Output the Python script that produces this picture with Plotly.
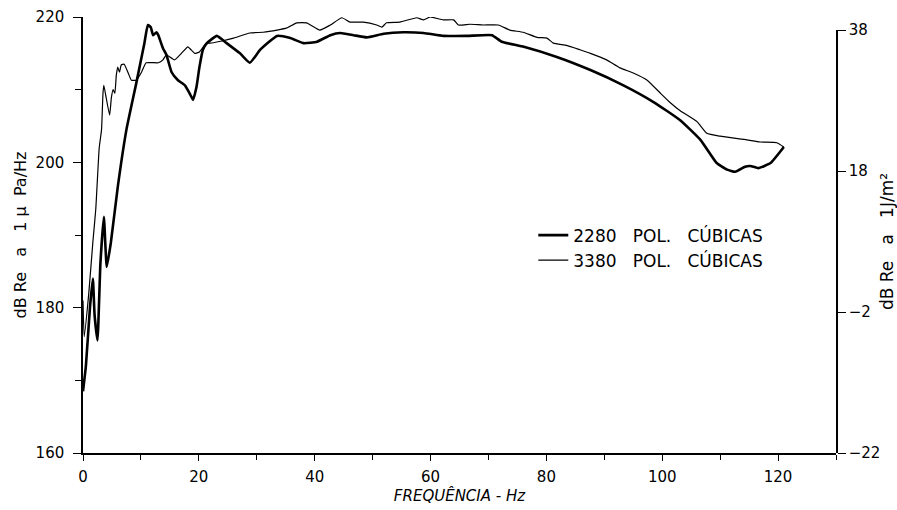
import plotly.graph_objects as go

# 2280 POL. CÚBICAS (thick line)
freq_2280 = [0, 0.5, 1.2, 1.7, 2.0, 2.5, 3.0, 3.6, 4.1, 4.8, 6.0, 7.5, 9.2, 10.6, 11.2, 11.7,
             12.1, 12.7, 13.0, 13.8, 14.4, 15.3, 16.4, 17.6, 18.4, 19.0, 19.6, 20.1, 20.7, 21.4,
             23.1, 24.8, 27.1, 28.8, 30.6, 33.5, 35.8, 38.1, 40.4, 42.7, 44.4, 46.7, 49.0, 51.9,
             55.3, 58.8, 62.2, 66.3, 70.6, 72.3, 76.1, 81.8, 87.6, 93.3, 98.5, 103.1, 106.6,
             109.4, 111.2, 112.6, 114.3, 115.2, 116.6, 118.7, 121.0]
db_2280 = [168.5, 172, 180, 184, 179, 175.5, 186, 192.5, 185.6, 188.9, 196.6, 204.5, 210.9, 216.4,
           218.9, 218.6, 217.5, 217.9, 217.5, 215.7, 214.8, 212.4, 211.3, 210.6, 209.5, 208.6,
           210.4, 213.1, 215.5, 216.4, 217.4, 216.4, 215.0, 213.7, 215.5, 217.4, 217.1, 216.4,
           216.6, 217.5, 217.8, 217.5, 217.2, 217.7, 217.9, 217.8, 217.4, 217.4, 217.5, 216.6,
           215.9, 214.5, 212.7, 210.6, 208.3, 205.8, 203.1, 199.9, 199.0, 198.7, 199.4, 199.5,
           199.2, 199.9, 202.1]

# 3380 POL. CÚBICAS (thin line)
freq_3380 = [0, 0.2, 1.0, 1.7, 2.2, 2.8, 3.2, 3.45, 3.6, 4.0, 4.6, 4.9, 5.2, 5.5, 5.75, 6.0, 6.3,
             6.6, 7.1, 7.8, 8.35, 9.2, 10.1, 10.9, 13.0, 13.8, 14.4, 15.8, 17.0, 18.1, 19.3,
             20.1, 21.3, 21.9, 24.0, 26.0, 28.8, 31.1, 33.5, 35.2, 36.9, 38.6, 40.9, 42.7, 44.7,
             46.1, 48.4, 50.7, 51.6, 52.4, 54.7, 57.6, 58.8, 59.9, 62.2, 64.0, 64.8, 66.8, 69.1,
             71.7, 73.7, 76.0, 78.4, 80.1, 81.2, 83.5, 85.8, 87.6, 90.4, 92.7, 95.0, 97.4, 99.7,
             101.4, 103.1, 106.0, 107.7, 110.0, 114.6, 116.9, 119.8, 121.0]
db_3380 = [181, 176, 182, 189, 193.5, 202, 204.5, 209.5, 210.6, 208.9, 206.5, 208.9, 210.0,
           209.5, 212.0, 213.1, 212.4, 213.4, 213.5, 212.3, 211.3, 211.3, 212.4, 213.7, 213.7,
           214.1, 214.8, 214.1, 215.0, 215.9, 215.0, 215.2, 216.4, 216.4, 216.7, 217.1, 217.8,
           217.9, 218.2, 218.5, 219.2, 219.2, 218.2, 218.9, 219.9, 219.3, 219.3, 218.9, 218.6,
           219.2, 219.3, 219.9, 219.6, 220.0, 219.6, 219.6, 218.9, 219.0, 218.9, 218.9, 218.2,
           217.9, 217.2, 217.1, 216.4, 216.1, 215.5, 215.0, 214.1, 213.0, 212.3, 211.3, 209.5,
           208.2, 207.1, 205.6, 204.0, 203.6, 203.1, 202.8, 202.7, 202.1]

x_ticks = [0, 20, 40, 60, 80, 100, 120]
left_ticks = [160, 180, 200, 220]
right_ticks = [-22, -2, 18, 38]

FONT = "DejaVu Sans"

fig = go.Figure()
fig.add_trace(go.Scatter(x=freq_2280, y=db_2280, mode="lines", name="2280   POL.   CÚBICAS",
                         line=dict(color="black", width=2.6, shape="spline", smoothing=0.4)))
fig.add_trace(go.Scatter(x=freq_3380, y=db_3380, mode="lines", name="3380   POL.   CÚBICAS",
                         line=dict(color="black", width=1.2, shape="spline", smoothing=0.4)))
# carrier for the right-hand axis
fig.add_trace(go.Scatter(x=[None], y=[None], yaxis="y2", showlegend=False, hoverinfo="skip"))

fig.update_layout(
    width=897, height=510,
    margin=dict(l=83, r=61, t=17, b=57),
    paper_bgcolor="white", plot_bgcolor="rgba(0,0,0,0)",
    font=dict(family=FONT, color="black", size=15),
    showlegend=True,
    legend=dict(x=0.598, y=0.54, xanchor="left", yanchor="top",
                bgcolor="rgba(0,0,0,0)", font=dict(size=17, family=FONT),
                itemwidth=30, tracegroupgap=0),
    xaxis=dict(range=[0, 130], tickvals=x_ticks, showgrid=False, zeroline=False,
               automargin=False,
               showline=True, linecolor="black", linewidth=1.5,
               ticks="outside", ticklen=6, tickwidth=1.2, tickcolor="black",
               minor=dict(dtick=10, tick0=0, ticks="outside", ticklen=5, tickwidth=1, tickcolor="black"),
               tickfont=dict(size=15), ticklabelstandoff=3,
               title=dict(text="<i>FREQUÊNCIA - Hz</i>", font=dict(size=15), standoff=5)),
    yaxis=dict(range=[160, 220], tickvals=left_ticks, showgrid=False, zeroline=False,
               automargin=False,
               showline=True, linecolor="black", linewidth=1.5,
               ticks="outside", ticklen=8, tickwidth=1.2, tickcolor="black",
               minor=dict(dtick=10, tick0=160, ticks="outside", ticklen=6, tickwidth=1, tickcolor="black"),
               tickfont=dict(size=15), ticklabelstandoff=6,
               title=dict(text="dB Re   a   1 μ  Pa/Hz", font=dict(size=16), standoff=5)),
    yaxis2=dict(range=[-22, 38], domain=[0, 0.97], anchor="x", side="right",
                automargin=False,
                tickvals=right_ticks, showgrid=False, zeroline=False,
                showline=True, linecolor="black", linewidth=1.5,
                ticks="outside", ticklen=8, tickwidth=1.2, tickcolor="black",
                tickfont=dict(size=15),
                title=dict(text="dB Re   a   1J/m²", font=dict(size=17), standoff=7)),
)

fig.write_html("out.html")
